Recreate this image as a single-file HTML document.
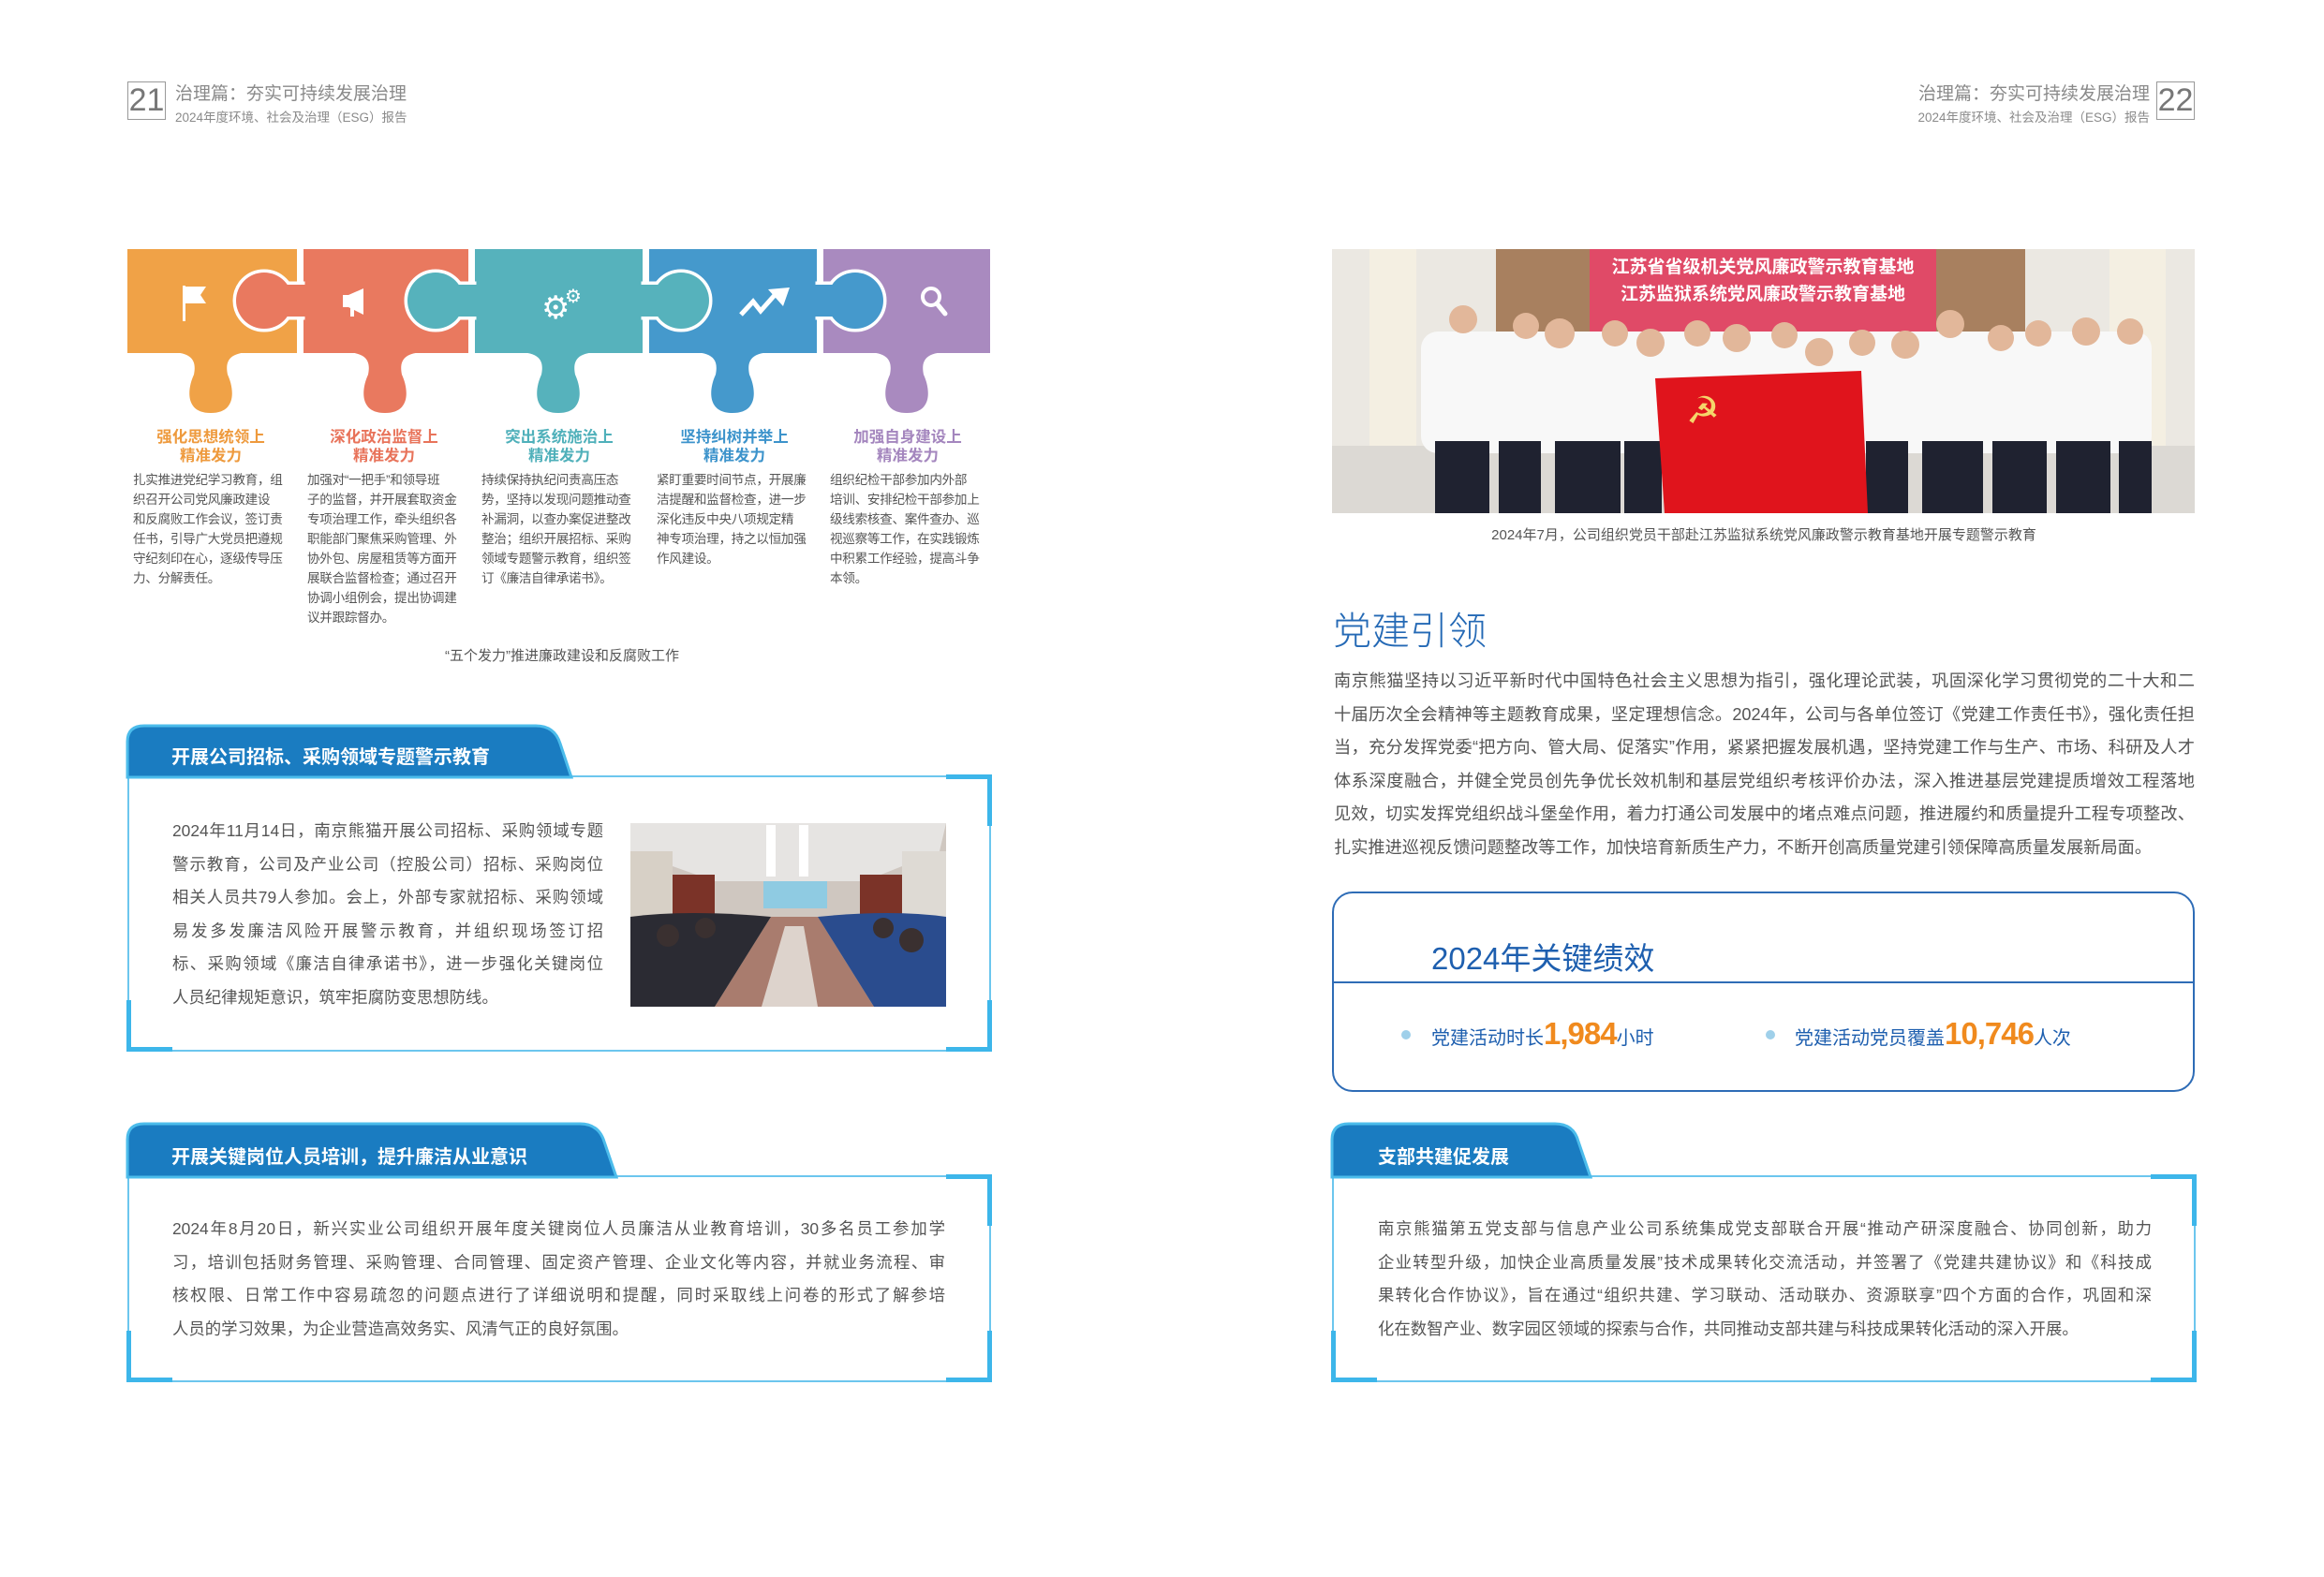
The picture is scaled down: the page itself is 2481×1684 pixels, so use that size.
<!DOCTYPE html>
<html><head><meta charset="utf-8">
<style>
*{margin:0;padding:0;box-sizing:border-box}
body{width:2481px;height:1684px;background:#fff;position:relative;overflow:hidden;font-family:"Liberation Sans","Noto Sans CJK SC",sans-serif;color:#555}
.a{position:absolute}
.hdr{font-size:19px;color:#8a8a8a;white-space:nowrap}
.sub{font-size:13.5px;color:#8a8a8a;white-space:nowrap}
.pn{border:1.5px solid #999;color:#777;font-size:34px;line-height:38px;text-align:center;font-family:"Liberation Sans",sans-serif;font-weight:300}
.ct{font-size:16.5px;font-weight:bold;text-align:center;line-height:20px;white-space:nowrap}
.cb{font-size:13.6px;line-height:21px;color:#555;white-space:nowrap;letter-spacing:-0.3px}
.ln{white-space:nowrap;text-align:justify;text-align-last:justify}
.ll{white-space:nowrap}
.bx{border:2px solid #6cc6ee}
.cor{position:absolute;background:#3db6ea}
.tabt{color:#fff;font-weight:bold;font-size:20px;white-space:nowrap}
</style></head><body>

<div class="a pn" style="left:136px;top:87px;width:41px;height:41px">21</div>
<div class="a hdr" style="left:187px;top:85px">治理篇：夯实可持续发展治理</div>
<div class="a sub" style="left:187px;top:114px">2024年度环境、社会及治理（ESG）报告</div>
<div class="a pn" style="left:2302px;top:87px;width:41px;height:41px">22</div>
<div class="a hdr" style="right:186px;top:85px;text-align:right">治理篇：夯实可持续发展治理</div>
<div class="a sub" style="right:186px;top:114px;text-align:right">2024年度环境、社会及治理（ESG）报告</div>

<svg class="a" style="left:0;top:0" width="1100" height="460">
<rect x="136" y="266" width="186" height="111" fill="#F0A247"/>
<rect x="320" y="266" width="185" height="111" fill="#E9795F"/>
<rect x="503" y="266" width="188" height="111" fill="#56B2BC"/>
<rect x="689" y="266" width="188" height="111" fill="#4599CC"/>
<rect x="875" y="266" width="182" height="111" fill="#A98ABF"/>
<!-- separators -->
<g fill="#fff"><rect x="317" y="266" width="7" height="111"/><rect x="500" y="266" width="7" height="111"/><rect x="686" y="266" width="7" height="111"/><rect x="872" y="266" width="7" height="111"/></g>
<!-- knobs: stroke layer -->
<g stroke="#fff" stroke-width="7">
<circle cx="282" cy="321" r="30" fill="#E9795F"/><rect x="300" y="304" width="22" height="34" fill="#E9795F"/>
<circle cx="465" cy="321" r="30" fill="#56B2BC"/><rect x="483" y="304" width="22" height="34" fill="#56B2BC"/>
<circle cx="727" cy="321" r="30" fill="#56B2BC"/><rect x="688" y="304" width="22" height="34" fill="#56B2BC"/>
<circle cx="913" cy="321" r="30" fill="#4599CC"/><rect x="874" y="304" width="22" height="34" fill="#4599CC"/>
</g>
<g>
<circle cx="282" cy="321" r="30" fill="#E9795F"/><rect x="300" y="304" width="28" height="34" fill="#E9795F"/>
<circle cx="465" cy="321" r="30" fill="#56B2BC"/><rect x="483" y="304" width="28" height="34" fill="#56B2BC"/>
<circle cx="727" cy="321" r="30" fill="#56B2BC"/><rect x="682" y="304" width="28" height="34" fill="#56B2BC"/>
<circle cx="913" cy="321" r="30" fill="#4599CC"/><rect x="868" y="304" width="28" height="34" fill="#4599CC"/>
</g>
<path d="M180,376 C205,376 210,385 207,400 C200,415 197,441 225,441 C253,441 250,415 243,400 C240,385 245,376 270,376 Z" fill="#F0A247"/>
<path d="M366,376 C391,376 396,385 393,400 C386,415 383,441 411,441 C439,441 436,415 429,400 C426,385 431,376 456,376 Z" fill="#E9795F"/>
<path d="M551,376 C576,376 581,385 578,400 C571,415 568,441 596,441 C624,441 621,415 614,400 C611,385 616,376 641,376 Z" fill="#56B2BC"/>
<path d="M737,376 C762,376 767,385 764,400 C757,415 754,441 782,441 C810,441 807,415 800,400 C797,385 802,376 827,376 Z" fill="#4599CC"/>
<path d="M923,376 C948,376 953,385 950,400 C943,415 940,441 968,441 C996,441 993,415 986,400 C983,385 988,376 1013,376 Z" fill="#A98ABF"/>
<rect x="195" y="305" width="3" height="38" fill="#fff"/>
<path d="M198,306 L220,306 L214,315 L220,324 L198,324 Z" fill="#fff"/>
<path d="M372,315 L388,308 L388,336 L372,328 Z" fill="#fff"/>
<rect x="366" y="315" width="6" height="13" fill="#fff"/>
<rect x="374" y="328" width="4" height="10" fill="#fff"/>
<text x="578" y="340" font-size="34" fill="#fff" font-family="DejaVu Sans">⚙</text>
<text x="603" y="323" font-size="20" fill="#fff" font-family="DejaVu Sans">⚙</text>
<path d="M791,336 L804,322 L812,332 L828,314" stroke="#fff" stroke-width="5" fill="none"/>
<path d="M820,309 L843,307 L836,327 Z" fill="#fff"/>
<circle cx="994" cy="317" r="9" stroke="#fff" stroke-width="4" fill="none"/>
<line x1="1000" y1="324" x2="1009" y2="335" stroke="#fff" stroke-width="5" stroke-linecap="round"/>
</svg>

<div class="a ct" style="left:142px;width:166px;top:457px;color:#EE9A3D">强化思想统领上<br>精准发力</div>
<div class="a ct" style="left:327px;width:166px;top:457px;color:#E8735A">深化政治监督上<br>精准发力</div>
<div class="a ct" style="left:514px;width:166px;top:457px;color:#4FB0BA">突出系统施治上<br>精准发力</div>
<div class="a ct" style="left:701px;width:166px;top:457px;color:#3C93CB">坚持纠树并举上<br>精准发力</div>
<div class="a ct" style="left:886px;width:166px;top:457px;color:#A486BE">加强自身建设上<br>精准发力</div>

<div class="a cb" style="left:142px;top:502px">扎实推进党纪学习教育，组<br>织召开公司党风廉政建设<br>和反腐败工作会议，签订责<br>任书，引导广大党员把遵规<br>守纪刻印在心，逐级传导压<br>力、分解责任。</div>
<div class="a cb" style="left:328px;top:502px">加强对“一把手”和领导班<br>子的监督，并开展套取资金<br>专项治理工作，牵头组织各<br>职能部门聚焦采购管理、外<br>协外包、房屋租赁等方面开<br>展联合监督检查；通过召开<br>协调小组例会，提出协调建<br>议并跟踪督办。</div>
<div class="a cb" style="left:514px;top:502px">持续保持执纪问责高压态<br>势，坚持以发现问题推动查<br>补漏洞，以查办案促进整改<br>整治；组织开展招标、采购<br>领域专题警示教育，组织签<br>订《廉洁自律承诺书》。</div>
<div class="a cb" style="left:701px;top:502px">紧盯重要时间节点，开展廉<br>洁提醒和监督检查，进一步<br>深化违反中央八项规定精<br>神专项治理，持之以恒加强<br>作风建设。</div>
<div class="a cb" style="left:886px;top:502px">组织纪检干部参加内外部<br>培训、安排纪检干部参加上<br>级线索核查、案件查办、巡<br>视巡察等工作，在实践锻炼<br>中积累工作经验，提高斗争<br>本领。</div>
<div class="a" style="left:400px;width:400px;top:689px;text-align:center;font-size:15px;color:#555">“五个发力”推进廉政建设和反腐败工作</div>

<div class="a bx" style="left:136px;top:828px;width:922px;height:295px"></div>
<div class="cor" style="left:1010px;top:827px;width:48px;height:5px"></div>
<div class="cor" style="left:1054px;top:827px;width:5px;height:55px"></div>
<div class="cor" style="left:136px;top:1118px;width:48px;height:5px"></div>
<div class="cor" style="left:135px;top:1068px;width:5px;height:55px"></div>
<div class="cor" style="left:1010px;top:1118px;width:48px;height:5px"></div>
<div class="cor" style="left:1054px;top:1068px;width:5px;height:55px"></div>
<svg class="a" style="left:134px;top:772px" width="490" height="60"><path d="M2,58 L2,20 Q2,3 20,3 L438,3 Q458,3 464,22 L476,58 Z" fill="#1A7CC1" stroke="#4CBCEB" stroke-width="3"/></svg>
<div class="a tabt" style="left:183px;top:792px">开展公司招标、采购领域专题警示教育</div>
<div class="a" style="left:184px;top:870px;width:460px;font-size:17.4px;line-height:35.5px;color:#555">
<div class="ln">2024年11月14日，南京熊猫开展公司招标、采购领域专题</div>
<div class="ln">警示教育，公司及产业公司（控股公司）招标、采购岗位</div>
<div class="ln">相关人员共79人参加。会上，外部专家就招标、采购领域</div>
<div class="ln">易发多发廉洁风险开展警示教育，并组织现场签订招</div>
<div class="ln">标、采购领域《廉洁自律承诺书》，进一步强化关键岗位</div>
<div class="ll">人员纪律规矩意识，筑牢拒腐防变思想防线。</div>
</div>
<svg class="a" style="left:673px;top:879px" width="337" height="196">
<rect width="337" height="196" fill="#cfc7c0"/>
<polygon points="0,0 337,0 330,30 250,62 90,62 0,30" fill="#e6e4e2"/>
<rect x="145" y="2" width="10" height="55" fill="#fff"/><rect x="180" y="2" width="10" height="55" fill="#fff"/>
<rect x="0" y="30" width="45" height="85" fill="#d7d0c6"/><rect x="290" y="30" width="47" height="85" fill="#dedad4"/>
<rect x="45" y="55" width="45" height="60" fill="#7b3328"/><rect x="245" y="55" width="45" height="60" fill="#7b3328"/>
<rect x="142" y="62" width="68" height="29" fill="#8fcbe2"/>
<polygon points="150,100 200,100 260,196 90,196" fill="#a97c6e"/>
<polygon points="165,110 185,110 200,196 140,196" fill="#ddd3cc"/>
<path d="M0,100 Q60,92 150,100 L90,196 L0,196 Z" fill="#2b2b33"/>
<path d="M337,100 Q280,92 200,100 L260,196 L337,196 Z" fill="#2a4c8e"/>
<circle cx="40" cy="120" r="12" fill="#3a3030"/><circle cx="80" cy="112" r="11" fill="#3a3030"/><circle cx="300" cy="125" r="13" fill="#3a3030"/><circle cx="270" cy="112" r="11" fill="#3a3030"/>
</svg>

<div class="a bx" style="left:136px;top:1255px;width:922px;height:221px"></div>
<div class="cor" style="left:1010px;top:1254px;width:48px;height:5px"></div>
<div class="cor" style="left:1054px;top:1254px;width:5px;height:55px"></div>
<div class="cor" style="left:136px;top:1471px;width:48px;height:5px"></div>
<div class="cor" style="left:135px;top:1421px;width:5px;height:55px"></div>
<div class="cor" style="left:1010px;top:1471px;width:48px;height:5px"></div>
<div class="cor" style="left:1054px;top:1421px;width:5px;height:55px"></div>
<svg class="a" style="left:134px;top:1197px" width="540" height="62"><path d="M2,60 L2,20 Q2,3 20,3 L485,3 Q505,3 511,22 L524,60 Z" fill="#1A7CC1" stroke="#4CBCEB" stroke-width="3"/></svg>
<div class="a tabt" style="left:183px;top:1219px">开展关键岗位人员培训，提升廉洁从业意识</div>
<div class="a" style="left:184px;top:1295px;width:825px;font-size:17.4px;line-height:35.5px;color:#555">
<div class="ln">2024年8月20日，新兴实业公司组织开展年度关键岗位人员廉洁从业教育培训，30多名员工参加学</div>
<div class="ln">习，培训包括财务管理、采购管理、合同管理、固定资产管理、企业文化等内容，并就业务流程、审</div>
<div class="ln">核权限、日常工作中容易疏忽的问题点进行了详细说明和提醒，同时采取线上问卷的形式了解参培</div>
<div class="ll">人员的学习效果，为企业营造高效务实、风清气正的良好氛围。</div>
</div>

<svg class="a" style="left:1422px;top:266px" width="921" height="282">
<rect width="921" height="282" fill="#ebe8e2"/>
<rect x="40" y="0" width="50" height="282" fill="#f4efe2"/>
<rect x="830" y="0" width="60" height="282" fill="#f4efe2"/>
<rect x="175" y="0" width="100" height="120" fill="#a8805f"/>
<rect x="645" y="0" width="95" height="120" fill="#a8805f"/>
<rect x="275" y="0" width="370" height="110" fill="#e04a67"/>
<text x="460" y="25" font-size="19" font-weight="bold" fill="#fff" text-anchor="middle" font-family="Noto Sans CJK SC">江苏省省级机关党风廉政警示教育基地</text>
<text x="460" y="54" font-size="19" font-weight="bold" fill="#fff" text-anchor="middle" font-family="Noto Sans CJK SC">江苏监狱系统党风廉政警示教育基地</text>
<rect x="0" y="210" width="921" height="72" fill="#dcd9d4"/>
<rect x="95" y="88" width="780" height="130" rx="18" fill="#f8f8f8"/>
<g fill="#1f2230">
<rect x="110" y="205" width="58" height="77"/><rect x="178" y="205" width="45" height="77"/><rect x="238" y="205" width="70" height="77"/><rect x="312" y="205" width="40" height="77"/>
<rect x="570" y="205" width="45" height="77"/><rect x="630" y="205" width="65" height="77"/><rect x="705" y="205" width="58" height="77"/><rect x="773" y="205" width="58" height="77"/><rect x="840" y="205" width="35" height="77"/>
</g>
<g fill="#e2b79a">
<circle cx="140" cy="75" r="15"/><circle cx="207" cy="82" r="14"/><circle cx="243" cy="90" r="16"/><circle cx="302" cy="90" r="14"/><circle cx="340" cy="100" r="15"/><circle cx="390" cy="90" r="14"/><circle cx="432" cy="95" r="15"/><circle cx="483" cy="92" r="14"/><circle cx="520" cy="110" r="15"/><circle cx="566" cy="100" r="14"/><circle cx="612" cy="102" r="15"/><circle cx="660" cy="80" r="15"/><circle cx="714" cy="95" r="14"/><circle cx="754" cy="90" r="14"/><circle cx="805" cy="88" r="15"/><circle cx="852" cy="88" r="14"/>
</g>
<path d="M345,138 L565,130 L572,282 L355,282 Z" fill="#e0141c"/>
<text x="378" y="186" font-size="40" fill="#f5d56a" font-family="DejaVu Sans">☭</text>
</svg>
<div class="a" style="left:1500px;width:766px;top:560px;text-align:center;font-size:15px;color:#555">2024年7月，公司组织党员干部赴江苏监狱系统党风廉政警示教育基地开展专题警示教育</div>

<div class="a" style="left:1423px;top:640px;font-size:41px;color:#2469B5;font-weight:300">党建引领</div>
<div class="a" style="left:1424px;top:710px;width:919px;font-size:18.2px;line-height:35.5px;color:#555">
<div class="ln">南京熊猫坚持以习近平新时代中国特色社会主义思想为指引，强化理论武装，巩固深化学习贯彻党的二十大和二</div>
<div class="ln">十届历次全会精神等主题教育成果，坚定理想信念。2024年，公司与各单位签订《党建工作责任书》，强化责任担</div>
<div class="ln">当，充分发挥党委“把方向、管大局、促落实”作用，紧紧把握发展机遇，坚持党建工作与生产、市场、科研及人才</div>
<div class="ln">体系深度融合，并健全党员创先争优长效机制和基层党组织考核评价办法，深入推进基层党建提质增效工程落地</div>
<div class="ln">见效，切实发挥党组织战斗堡垒作用，着力打通公司发展中的堵点难点问题，推进履约和质量提升工程专项整改、</div>
<div class="ll">扎实推进巡视反馈问题整改等工作，加快培育新质生产力，不断开创高质量党建引领保障高质量发展新局面。</div>
</div>

<div class="a" style="left:1422px;top:952px;width:921px;height:214px;border:2px solid #2E6CB6;border-radius:22px"></div>
<div class="a" style="left:1423px;top:1048px;width:919px;height:2px;background:#2E6CB6"></div>
<div class="a" style="left:1528px;top:997px;font-size:33px;color:#1E5FAF">2024年关键绩效</div>
<div class="a" style="left:1496px;top:1100px;width:10px;height:10px;border-radius:50%;background:#9fd0ea"></div>
<div class="a" style="left:1528px;top:1085px;white-space:nowrap;color:#1E5FAF;font-size:20px"><span>党建活动时长</span><span style="color:#F08A1E;font-weight:bold;font-size:33px;letter-spacing:-1px">1,984</span><span>小时</span></div>
<div class="a" style="left:1885px;top:1100px;width:10px;height:10px;border-radius:50%;background:#9fd0ea"></div>
<div class="a" style="left:1916px;top:1085px;white-space:nowrap;color:#1E5FAF;font-size:20px"><span>党建活动党员覆盖</span><span style="color:#F08A1E;font-weight:bold;font-size:33px;letter-spacing:-1px">10,746</span><span>人次</span></div>

<div class="a bx" style="left:1422px;top:1255px;width:922px;height:221px"></div>
<div class="cor" style="left:2296px;top:1254px;width:48px;height:5px"></div>
<div class="cor" style="left:2340px;top:1254px;width:5px;height:55px"></div>
<div class="cor" style="left:1422px;top:1471px;width:48px;height:5px"></div>
<div class="cor" style="left:1421px;top:1421px;width:5px;height:55px"></div>
<div class="cor" style="left:2296px;top:1471px;width:48px;height:5px"></div>
<div class="cor" style="left:2340px;top:1421px;width:5px;height:55px"></div>
<svg class="a" style="left:1420px;top:1197px" width="290" height="62"><path d="M2,60 L2,20 Q2,3 20,3 L240,3 Q260,3 265,22 L278,60 Z" fill="#1A7CC1" stroke="#4CBCEB" stroke-width="3"/></svg>
<div class="a tabt" style="left:1471px;top:1219px">支部共建促发展</div>
<div class="a" style="left:1471px;top:1295px;width:826px;font-size:17.4px;line-height:35.5px;color:#555">
<div class="ln">南京熊猫第五党支部与信息产业公司系统集成党支部联合开展“推动产研深度融合、协同创新，助力</div>
<div class="ln">企业转型升级，加快企业高质量发展”技术成果转化交流活动，并签署了《党建共建协议》和《科技成</div>
<div class="ln">果转化合作协议》，旨在通过“组织共建、学习联动、活动联办、资源联享”四个方面的合作，巩固和深</div>
<div class="ll">化在数智产业、数字园区领域的探索与合作，共同推动支部共建与科技成果转化活动的深入开展。</div>
</div>

</body></html>
